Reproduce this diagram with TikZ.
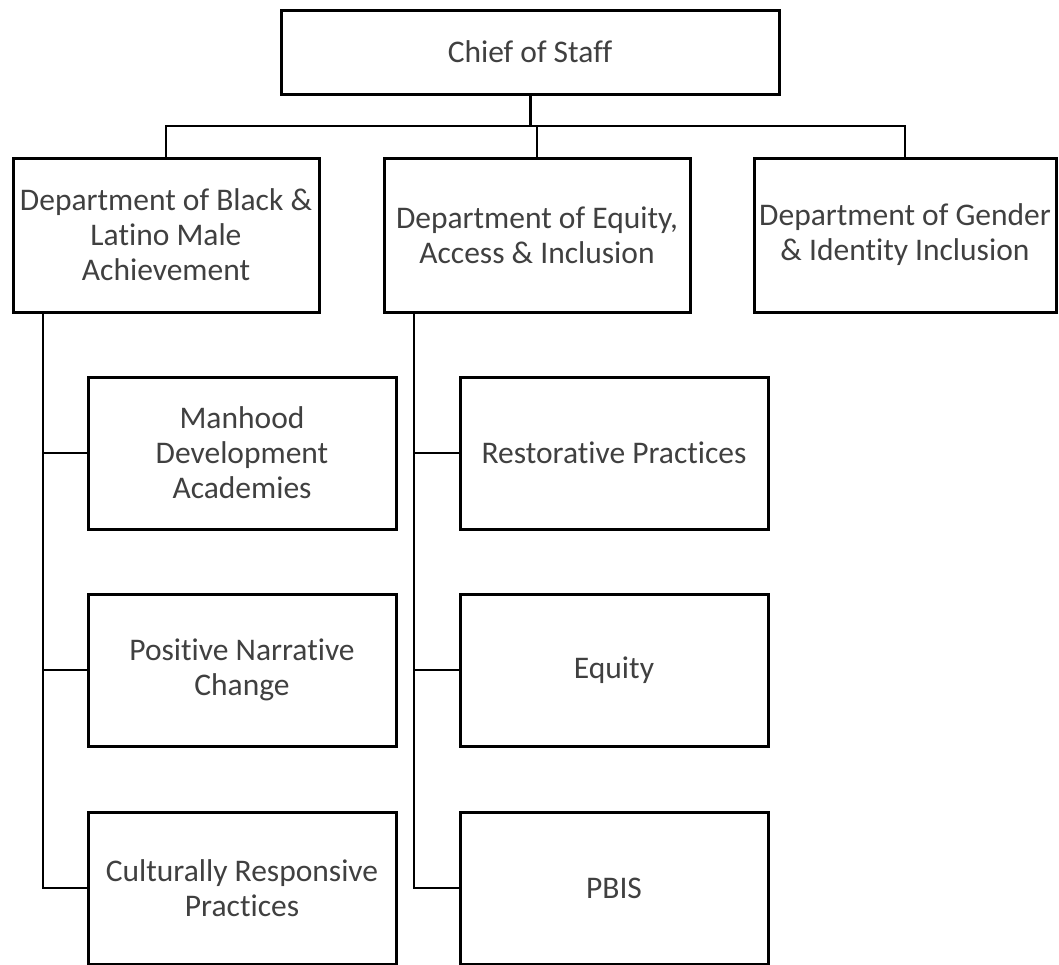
\documentclass[tikz,border=0pt]{standalone}
\usepackage{fontspec}
\setmainfont[Ligatures=NoCommon]{Carlito}
\definecolor{txtgray}{RGB}{64,64,64}
\begin{document}
\begin{tikzpicture}[x=1pt,y=-1pt,
  orgbox/.style={draw=black, line width=3pt, fill=white, inner sep=0pt, outer sep=0pt,
    align=center, text=txtgray, font=\fontsize{31.5}{35}\selectfont},
  link/.style={draw=black, line width=2pt},
  trunk/.style={draw=black, line width=3pt}]
\useasboundingbox (0,0) rectangle (1059,964);
\fill[white] (0,0) rectangle (1059,964);
% boxes
\node[orgbox, minimum width=498pt, minimum height=84pt] (chief) at (530,52) {Chief of Staff};
\node[orgbox, minimum width=306pt, minimum height=154pt] (black) at (166,235) {Department of Black \&\\Latino Male\\Achievement};
\node[orgbox, minimum width=306pt, minimum height=154pt] (equity) at (537,235) {Department of Equity,\\Access \& Inclusion};
\node[orgbox, minimum width=302pt, minimum height=154pt] (gender) at (905,235) {Department of Gender\\\& Identity Inclusion};
\node[orgbox, minimum width=308pt, minimum height=152pt] (manhood) at (242,453) {Manhood\\Development\\Academies};
\node[orgbox, minimum width=308pt, minimum height=152pt] (positive) at (242,670) {Positive Narrative\\Change};
\node[orgbox, minimum width=308pt, minimum height=152pt] (cultural) at (242,888) {Culturally Responsive\\Practices};
\node[orgbox, minimum width=308pt, minimum height=152pt] (restor) at (614,453) {Restorative Practices};
\node[orgbox, minimum width=308pt, minimum height=152pt] (equ) at (614,670) {Equity};
\node[orgbox, minimum width=308pt, minimum height=152pt] (pbis) at (614,888) {PBIS};
% bus coordinates
\coordinate (bus) at (530,126);
\coordinate (spineA) at (43,312);
\coordinate (spineB) at (414,312);
% connectors
\draw[trunk] (chief.south) -- (bus);
\draw[link] (black.north) |- (bus) -| (gender.north);
\draw[link] (bus -| equity.north) -- (equity.north);
\draw[link, line cap=rect] (spineA) |- (cultural.west);
\draw[link] (manhood.west) -- (manhood.west -| spineA);
\draw[link] (positive.west) -- (positive.west -| spineA);
\draw[link, line cap=rect] (spineB) |- (pbis.west);
\draw[link] (restor.west) -- (restor.west -| spineB);
\draw[link] (equ.west) -- (equ.west -| spineB);
\end{tikzpicture}
\end{document}
